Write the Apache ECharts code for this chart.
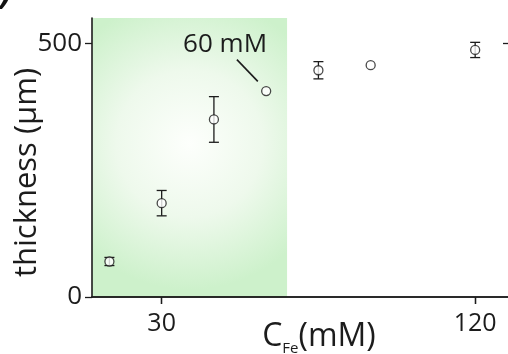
<!DOCTYPE html>
<html>
<head>
<meta charset="utf-8">
<script src="https://cdn.jsdelivr.net/npm/echarts@6/dist/echarts.min.js"></script>
<style>
html,body{margin:0;padding:0;background:#fff;}
#chart{width:508px;height:354px;}
</style>
</head>
<body>
<div id="chart"></div>
<script>
// Data
const concentration = [15, 30, 45, 60, 75, 90, 120];      // C_Fe (mM)
const thickness     = [70, 185, 350, 406, 447, 457, 487]; // µm
const thicknessErr  = [8, 25, 45, 0, 17, 0, 15];          // µm
const xTicks = [30, 120];
const yTicks = [0, 500];
const shadedRange = [10, 66];   // mM, highlighted region
const annotationText = '60 mM';

const font = 'Open Sans';
const ink = '#1c1c1c';

const chart = echarts.init(document.getElementById('chart'));

const points = concentration.map((c, i) => [c, thickness[i]]);
const errs = concentration.map((c, i) => [c, thickness[i], thicknessErr[i]]);

chart.setOption({
  animation: false,
  backgroundColor: '#fff',
  grid: { left: 92, top: 18, right: -2, bottom: 57, containLabel: false, outerBoundsMode: 'none' },
  xAxis: [{
    type: 'value', min: 10, max: 130, position: 'bottom',
    name: '{a|C}{s|Fe}{a|(mM)}', nameLocation: 'middle', nameGap: 24, nameMoveOverlap: false,
    nameTextStyle: {
      padding: [0, 0, 0, 36],
      rich: {
        a: { fontFamily: font, fontSize: 32, color: ink },
        s: { fontFamily: font, fontSize: 15, color: ink, verticalAlign: 'bottom', padding: [0, 0, -3, 0] }
      }
    },
    splitLine: { show: false },
    axisLine: { lineStyle: { color: ink, width: 1.6 } },
    axisTick: { customValues: xTicks, length: 7, lineStyle: { color: ink, width: 1.3 } },
    axisLabel: { customValues: xTicks, fontFamily: font, fontSize: 25, color: ink, margin: 14 }
  }, {
    type: 'value', min: 10, max: 130, position: 'top',
    splitLine: { show: false },
    axisLine: { lineStyle: { color: ink, width: 1.6 } },
    axisTick: { inside: true, customValues: xTicks, length: 7, lineStyle: { color: ink, width: 1.3 } },
    axisLabel: { show: false }
  }],
  yAxis: [{
    type: 'value', min: 0, max: 550, position: 'left',
    name: 'thickness (\u03bcm)', nameLocation: 'middle', nameGap: 49, nameMoveOverlap: false,
    nameTextStyle: { fontFamily: font, fontSize: 31, color: ink, padding: [0, 30, 0, 0] },
    splitLine: { show: false },
    axisLine: { lineStyle: { color: ink, width: 1.6 } },
    axisTick: { customValues: yTicks, length: 7, lineStyle: { color: ink, width: 1.3 } },
    axisLabel: { customValues: yTicks, fontFamily: font, fontSize: 26, color: ink, margin: 10 }
  }, {
    type: 'value', min: 0, max: 550, position: 'right',
    splitLine: { show: false },
    axisLine: { lineStyle: { color: ink, width: 1.6 } },
    axisTick: { inside: true, customValues: [500], length: 7, lineStyle: { color: ink, width: 1.3 } },
    axisLabel: { show: false }
  }],
  series: [{
    type: 'custom',
    xAxisIndex: 0, yAxisIndex: 0,
    data: errs,
    z: 3,
    renderItem: function (params, api) {
      const x = api.value(0), y = api.value(1), e = api.value(2);
      if (!e) return { type: 'group', children: [] };
      const top = api.coord([x, y + e]);
      const bot = api.coord([x, y - e]);
      const cap = 5;
      const style = { stroke: ink, lineWidth: 1.3 };
      return {
        type: 'group',
        children: [
          { type: 'line', shape: { x1: top[0], y1: top[1], x2: bot[0], y2: bot[1] }, style: style },
          { type: 'line', shape: { x1: top[0] - cap, y1: top[1], x2: top[0] + cap, y2: top[1] }, style: style },
          { type: 'line', shape: { x1: bot[0] - cap, y1: bot[1], x2: bot[0] + cap, y2: bot[1] }, style: style }
        ]
      };
    }
  }, {
    type: 'scatter',
    xAxisIndex: 0, yAxisIndex: 0,
    data: points,
    z: 4,
    symbol: 'circle', symbolSize: 9,
    itemStyle: { color: '#fff', borderColor: ink, borderWidth: 1.3 },
    markArea: {
      silent: true,
      z: 0,
      itemStyle: {
        color: {
          type: 'radial', x: 0.5, y: 0.45, r: 0.75,
          colorStops: [
            { offset: 0, color: '#fdfffc' },
            { offset: 0.5, color: '#eef9ec' },
            { offset: 1, color: '#cdf1cb' }
          ]
        }
      },
      data: [[{ xAxis: shadedRange[0], yAxis: 0 }, { xAxis: shadedRange[1], yAxis: 550 }]]
    },
    markLine: {
      silent: true,
      symbol: ['none', 'none'],
      label: { show: false },
      lineStyle: { color: ink, width: 1.6, type: 'solid' },
      data: [[{ coord: [51.6, 468] }, { coord: [57.6, 425] }]]
    },
    markPoint: {
      silent: true,
      symbol: 'circle', symbolSize: 0,
      label: { show: true, formatter: annotationText, fontFamily: font, fontSize: 26, color: ink, position: 'inside' },
      data: [{ coord: [48.2, 497] }]
    }
  }],
  graphic: [{
    type: 'text', left: 0, top: -24,
    style: { text: ')', fontFamily: font, fontSize: 34, fontWeight: 'bold', fontStyle: 'italic', fill: '#111' }
  }]
});
</script>
</body>
</html>
